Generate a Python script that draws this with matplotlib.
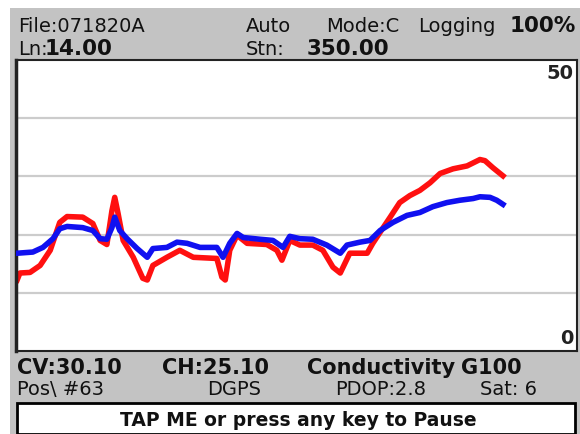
import matplotlib
matplotlib.use('Agg')
import matplotlib.pyplot as plt
from matplotlib.patches import Rectangle

# screen pixel size of the logger display
W, H = 580, 434

# trace positions across the screen (0-100 % of plot width) and readings (0-50 scale)
blue_x = [0.2, 3.0, 4.8, 6.6, 7.8, 9.1, 11.9, 13.7, 15.0, 16.2, 17.1, 17.6, 18.5, 19.8,
          21.6, 23.4, 24.4, 26.9, 28.7, 30.5, 32.8, 35.8, 36.9, 38.1, 39.4, 40.5, 43.5,
          45.8, 47.6, 48.8, 50.6, 52.9, 55.4, 57.8, 59.0, 61.3, 63.1, 64.9, 67.2, 69.7,
          72.0, 74.3, 76.8, 79.1, 81.5, 82.7, 84.5, 85.7, 86.8]
blue_y = [16.8, 17.0, 17.8, 19.3, 21.0, 21.4, 21.2, 20.7, 19.3, 19.2, 21.2, 23.0, 20.7,
          19.3, 17.6, 16.1, 17.6, 17.8, 18.7, 18.5, 17.8, 17.8, 16.1, 18.5, 20.2, 19.5,
          19.2, 19.0, 17.8, 19.7, 19.3, 19.2, 18.2, 16.8, 18.2, 18.7, 19.0, 20.7, 22.1,
          23.3, 23.8, 24.8, 25.5, 25.9, 26.2, 26.5, 26.4, 25.9, 25.2]

red_x = [0.2, 0.7, 2.5, 4.3, 6.1, 7.8, 9.1, 11.9, 13.7, 15.0, 16.2, 17.1, 17.6, 18.2,
         19.1, 20.9, 22.6, 23.4, 24.4, 26.9, 29.2, 31.6, 35.8, 36.7, 37.3, 38.1, 39.4,
         41.2, 44.7, 46.5, 47.4, 48.8, 50.6, 52.9, 54.7, 56.5, 57.8, 58.3, 59.5, 62.6,
         63.6, 64.9, 66.7, 68.4, 70.2, 72.0, 73.8, 75.6, 77.9, 80.4, 82.7, 83.6, 85.0, 86.8]
red_y = [12.2, 13.4, 13.5, 14.7, 17.3, 22.1, 23.1, 23.0, 21.9, 19.0, 18.3, 24.1, 26.4,
         23.6, 19.0, 16.1, 12.5, 12.2, 14.7, 16.1, 17.3, 16.1, 15.9, 12.7, 12.2, 17.3,
         19.9, 18.5, 18.3, 17.3, 15.6, 19.0, 18.2, 18.2, 17.3, 14.4, 13.4, 14.4, 16.8,
         16.8, 18.5, 20.4, 23.0, 25.5, 26.7, 27.6, 28.9, 30.5, 31.3, 31.8, 32.9, 32.7,
         31.5, 30.1]

scale_max = 50
grid_levels = [10, 20, 30, 40]

header_top = [("File:071820A", 18, 'normal'), ("Auto", 246, 'normal'), ("Mode:C", 326, 'normal'),
              ("Logging", 418, 'normal'), ("100%", 510, 'bold')]
header_bot = [("Ln:", 18, 'normal'), ("14.00", 45, 'bold'), ("Stn:", 246, 'normal'),
              ("350.00", 307, 'bold')]
footer_top = [("CV:30.10", 17, 'bold'), ("CH:25.10", 162, 'bold'),
              ("Conductivity", 307, 'bold'), ("G100", 461, 'bold')]
footer_bot = [("Pos\\ #63", 17, 'normal'), ("DGPS", 207, 'normal'),
              ("PDOP:2.8", 335, 'normal'), ("Sat: 6", 480, 'normal')]
button_text = "TAP ME or press any key to Pause"

GRAY = '#c3c3c3'


def fx(x):
    return x / W


def fy(y):
    return 1 - y / H


fig = plt.figure(figsize=(W / 100, H / 100), dpi=100)
fig.patch.set_facecolor('white')

# gray device panel
fig.patches.append(Rectangle((fx(10), 0), fx(W) - fx(10), fy(8), transform=fig.transFigure,
                             facecolor=GRAY, edgecolor='none', zorder=-2))
# pause button
fig.patches.append(Rectangle((fx(17), 0), fx(575) - fx(17), fy(403) - 0.0,
                             transform=fig.transFigure, facecolor='white',
                             edgecolor='black', lw=2, zorder=-1))

# chart area
ax = fig.add_axes([fx(16), fy(351), fx(577) - fx(16), fy(60) - fy(351)])
ax.set_zorder(2)
ax.set_facecolor('white')
for lvl in grid_levels:
    ax.axhline(lvl, color='#cccccc', lw=1.6, zorder=1)
ax.plot(red_x, red_y, color='#ff1010', lw=4, solid_joinstyle='round', zorder=2)
ax.plot(blue_x, blue_y, color='#1010f0', lw=4, solid_joinstyle='round', zorder=3)
ax.set_xlim(0, 100)
ax.set_ylim(0, scale_max)
ax.set_xticks([])
ax.set_yticks([])
for s in ax.spines.values():
    s.set_color('#222222')
    s.set_linewidth(1.5)
ax.spines['left'].set_linewidth(2.5)
ax.text(0.993, 0.985, str(scale_max), transform=ax.transAxes, ha='right', va='top',
        fontsize=14, fontweight='bold', color='#222222')
ax.text(0.993, 0.01, '0', transform=ax.transAxes, ha='right', va='bottom',
        fontsize=14, fontweight='bold', color='#222222')


def put_row(items, base, size_n=14, size_b=15.5):
    for txt, x, wt in items:
        fig.text(fx(x), fy(base), txt, ha='left', va='baseline', color='#111111',
                 fontsize=size_b if wt == 'bold' else size_n, fontweight=wt)


put_row(header_top, 32)
put_row(header_bot, 55)
put_row(footer_top, 374, size_b=15)
put_row(footer_bot, 395)
fig.text(fx(298), fy(426), button_text, ha='center', va='baseline', fontsize=13.5,
         fontweight='bold', color='#111111', zorder=5)

fig.savefig('out.png', dpi=100)
